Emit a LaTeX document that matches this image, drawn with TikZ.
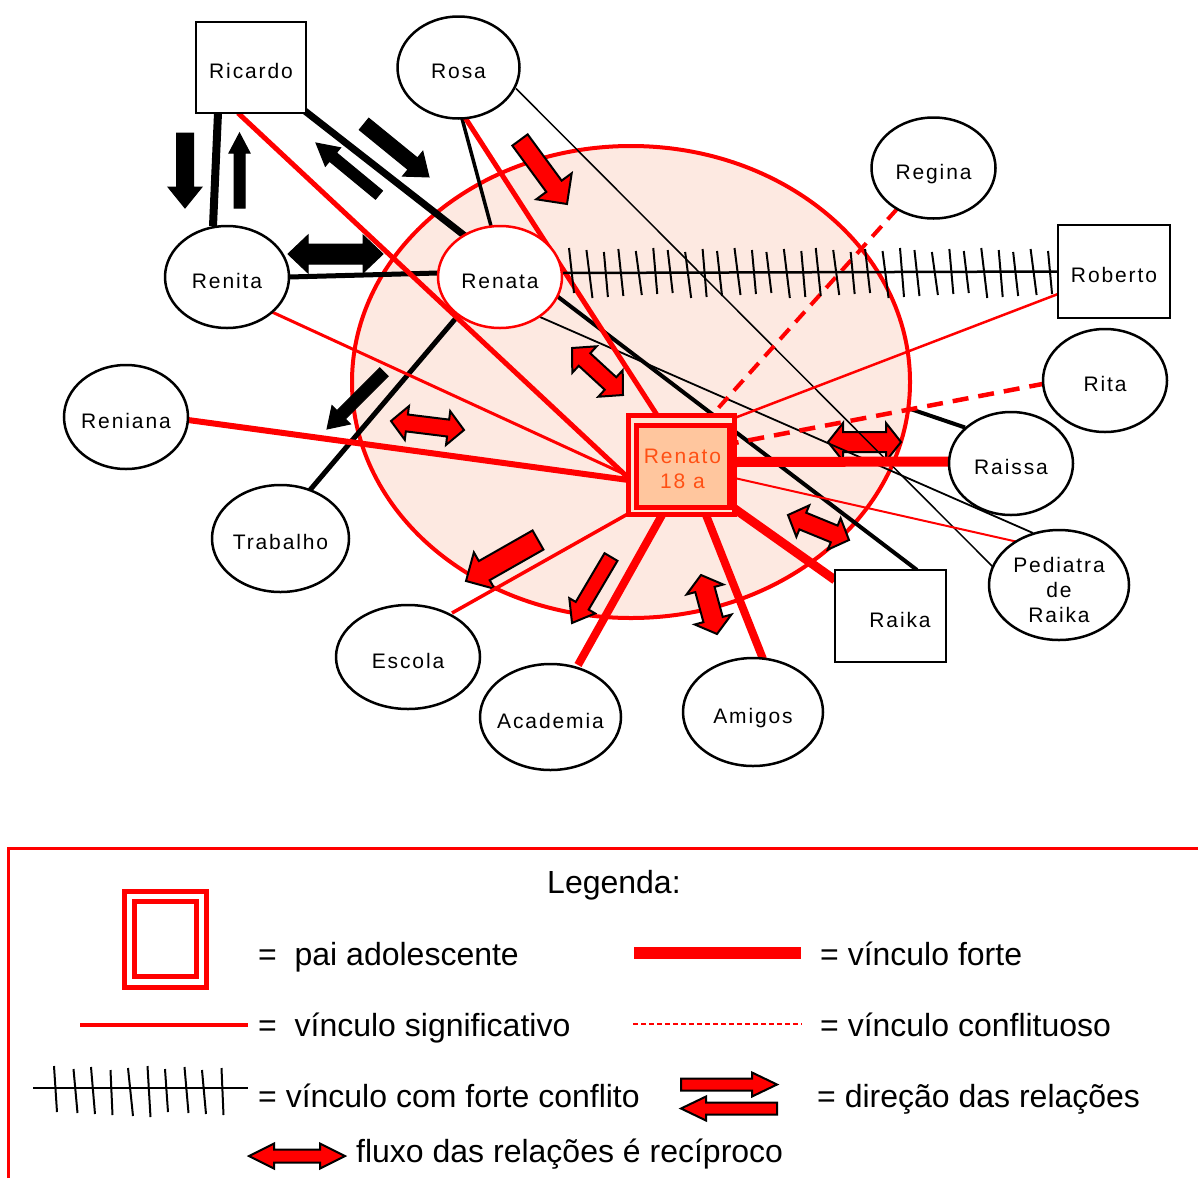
\documentclass[tikz,border=0pt]{standalone}
\usepackage{fontspec}
\setmainfont{Liberation Sans}
\newfontfamily\nodefam[LetterSpace=9]{Liberation Sans}
\usetikzlibrary{shapes.geometric,calc}
\pgfdeclarelayer{hidden}
\pgfdeclarelayer{circ}
\pgfdeclarelayer{arrowlayer}
\pgfdeclarelayer{edges}
\pgfsetlayers{hidden,circ,arrowlayer,edges,main}
\definecolor{circfill}{RGB}{253,233,225}
\definecolor{peach}{RGB}{255,198,158}
\definecolor{palepeach}{RGB}{255,230,212}
\definecolor{rtext}{RGB}{255,80,20}
\newcommand{\nodetxt}{\nodefam\fontsize{21}{25}\selectfont}
\newcommand{\legtxt}{\fontsize{32}{37}\selectfont}
% single block arrow: style, x1, y1, x2 (tip), y2, shaft half, head half, head length
\newcommand{\blkarrow}[8]{%
  \pgfmathsetmacro\bax{#4-(#2)}%
  \pgfmathsetmacro\bay{#5-(#3)}%
  \pgfmathsetmacro\baang{atan2(-(\bay),\bax)}%
  \pgfmathsetmacro\balen{veclen(\bax,\bay)}%
  \pgfmathsetmacro\babase{\balen-#8}%
  \begin{scope}[shift={(#2,#3)},rotate=\baang]
    \path[#1] (0,-#6) -- (\babase,-#6) -- (\babase,-#7) -- (\balen,0) -- (\babase,#7) -- (\babase,#6) -- (0,#6) -- cycle;
  \end{scope}}
% double block arrow
\newcommand{\dblarrow}[8]{%
  \pgfmathsetmacro\bax{#4-(#2)}%
  \pgfmathsetmacro\bay{#5-(#3)}%
  \pgfmathsetmacro\baang{atan2(-(\bay),\bax)}%
  \pgfmathsetmacro\balen{veclen(\bax,\bay)}%
  \pgfmathsetmacro\babase{\balen-#8}%
  \begin{scope}[shift={(#2,#3)},rotate=\baang]
    \path[#1] (0,0) -- (#8,-#7) -- (#8,-#6) -- (\babase,-#6) -- (\babase,-#7) -- (\balen,0) -- (\babase,#7) -- (\babase,#6) -- (#8,#6) -- (#8,#7) -- cycle;
  \end{scope}}
\tikzset{
  nd/.style={ellipse, draw=black, line width=2.5pt, fill=white, inner sep=-12pt, outer sep=0pt, font=\nodetxt, text height=22pt, text depth=0pt},
  bx/.style={rectangle, draw=black, line width=2.5pt, fill=white, inner sep=0pt, outer sep=0pt, font=\nodetxt, text height=22pt, text depth=0pt},
  blackarrow/.style={fill=black, draw=black, line width=1pt, line join=miter},
  redarrow/.style={fill=red, draw=black, line width=2pt, line join=miter},
  blk/.style={draw=black, line cap=butt},
  rd/.style={draw=red, line cap=butt},
  legtext/.style={anchor=base west, font=\legtxt, inner sep=0pt},
}
\begin{document}
\begin{tikzpicture}[x=1pt, y=-1pt]
\useasboundingbox (0,0) rectangle (1198,1178);

% ---------- nodes ----------
\node[bx, minimum width=110pt, minimum height=91pt] (ricardo) at (251,67.5) {Ricardo};
\node[nd, minimum width=122pt, minimum height=102pt] (rosa) at (458.5,67.5) {Rosa};
\node[nd, minimum width=124pt, minimum height=102pt] (renita) at (227,277) {Renita};
\node[nd, draw=red, minimum width=124pt, minimum height=102pt] (renata) at (500,277) {Renata};
\node[nd, minimum width=124pt, minimum height=101pt] (regina) at (933.5,168) {Regina};
\node[bx, minimum width=112pt, minimum height=93pt] (roberto) at (1114,271.5) {Roberto};
\node[nd, minimum width=124pt, minimum height=103pt] (rita) at (1105,380.5) {Rita};
\node[nd, minimum width=124pt, minimum height=103pt] (raissa) at (1011,463.5) {Raissa};
\node[nd, minimum width=140pt, minimum height=110pt, align=center, text height=75pt, text depth=0pt] (pediatra) at (1059,585) {Pediatra\\de\\Raika};
\node[bx, minimum width=111pt, minimum height=92pt] (raika) at (890.5,616) {\hspace*{19pt}Raika};
\node[nd, minimum width=140pt, minimum height=108pt] (amigos) at (753,712) {Amigos};
\node[nd, minimum width=141pt, minimum height=106pt] (academia) at (550.5,717) {Academia};
\node[nd, minimum width=144pt, minimum height=104pt] (escola) at (408,657) {Escola};
\node[nd, minimum width=137pt, minimum height=107pt] (trabalho) at (280.5,538.5) {Trabalho};
\node[nd, minimum width=124pt, minimum height=104pt] (reniana) at (126,417) {Reniana};
\node[rectangle, draw=red, line width=5pt, fill=palepeach, minimum width=106pt, minimum height=99pt, inner sep=0pt, outer sep=0pt] (renato) at (681.5,465) {};
\node[rectangle, draw=red, line width=5pt, fill=peach, minimum width=93pt, minimum height=82pt, inner sep=0pt, outer sep=0pt, text=rtext, font=\nodetxt, align=center, text height=44pt, text depth=0pt] (renatoin) at (682.5,466.5) {Renato\\18 a};

% ---------- hidden line (under the circle) ----------
\begin{pgfonlayer}{hidden}
\draw[blk, line width=4pt] ($(renata)+(60,13)$) -- ($(raissa)+(-46,-36)$);
\end{pgfonlayer}

% ---------- circle ----------
\begin{pgfonlayer}{circ}
\draw[red, line width=4pt, fill=circfill] (631,382) ellipse [x radius=279, y radius=236];
\end{pgfonlayer}

% ---------- block arrows ----------
\begin{pgfonlayer}{arrowlayer}
\blkarrow{blackarrow}{185}{133}{185}{208}{8.5}{17}{21}
\blkarrow{blackarrow}{239.5}{208}{239.5}{133}{5.5}{10.5}{20}
\blkarrow{blackarrow}{364}{124}{429}{177}{7.5}{16}{21}
\blkarrow{blackarrow}{379}{195}{316}{143}{5.5}{12}{22}
\dblarrow{blackarrow}{288}{254}{383}{254}{10}{19}{20}
\blkarrow{blackarrow}{384}{372}{327}{429}{6}{13}{20}
\blkarrow{redarrow}{520}{140}{567}{204}{9.5}{22}{22}
\dblarrow{redarrow}{572}{348}{623}{395}{8.5}{18}{17}
\dblarrow{redarrow}{391}{421}{464}{430}{8.5}{17}{16}
\dblarrow{redarrow}{828}{442}{901}{442}{10}{19}{15}
\dblarrow{redarrow}{788}{515}{849}{540}{9}{17}{16}
\blkarrow{redarrow}{538}{540}{466}{581}{11}{21}{21}
\blkarrow{redarrow}{611}{557}{572}{623}{7.5}{15}{20}
\dblarrow{redarrow}{701}{575}{717}{634}{10}{19}{15}
\end{pgfonlayer}

% ---------- connectors ----------
\begin{pgfonlayer}{edges}
% black
\draw[blk, line width=8pt] ($(ricardo)+(-33,45.5)$) -- ($(renita)+(-14,-51)$);
\draw[blk, line width=7pt] ($(ricardo)+(52,42)$) -- ($(renata)+(-35,-41)$);
\draw[blk, line width=5pt] ($(renita)+(62,0)$) -- ($(renata)+(-62,-4)$);
\draw[blk, line width=3.5pt] ($(rosa)+(3.5,51)$) -- ($(renata)+(-9,-51)$);
\draw[blk, line width=1.5pt] ($(rosa)+(57.5,21)$) -- ($(pediatra)+(-65,-17)$);
\draw[blk, line width=4pt] ($(renata)+(53,16)$) -- ($(raika)+(26.5,-46)$);
\draw[blk, line width=1.8pt] ($(renata)+(40,40)$) -- ($(pediatra)+(-26,-52)$);
\draw[blk, line width=5pt] ($(renata)+(-44,41)$) -- ($(trabalho)+(29.5,-48.5)$);
% red
\draw[rd, line width=5pt] ($(ricardo)+(-13,45.5)$) -- ($(renato)+(-53,13)$);
\draw[rd, line width=3pt] ($(renita)+(45,35)$) -- ($(renato)+(-53,11)$);
\draw[rd, line width=6pt] ($(reniana)+(62,3)$) -- ($(renato)+(-53,15)$);
\draw[rd, line width=5pt] ($(rosa)+(6.5,50)$) -- ($(renato)+(-24.5,-50)$);
\draw[rd, line width=4pt, dash pattern=on 14pt off 9pt] ($(regina)+(-36.5,41)$) -- ($(renato)+(30.5,-50)$);
\draw[rd, line width=2.5pt] ($(roberto)+(-56,22.5)$) -- ($(renato)+(53,-47)$);
\draw[rd, line width=4.5pt, dash pattern=on 16pt off 10pt] ($(rita)+(-60,3)$) -- ($(renato)+(53,-22)$);
\draw[rd, line width=10pt] ($(renato)+(53,-3)$) -- ($(raissa)+(-62,-2)$);
\draw[rd, line width=2pt] ($(pediatra)+(-41,-43)$) -- ($(renato)+(53,13)$);
\draw[rd, line width=9pt] ($(renato)+(52,43)$) -- ($(raika)+(-55.5,-36)$);
\draw[rd, line width=8pt] ($(renato)+(24.5,50)$) -- ($(amigos)+(10,-53)$);
\draw[rd, line width=8pt] ($(renato)+(-19.5,50)$) -- ($(academia)+(27.5,-52)$);
\draw[rd, line width=3.5pt] ($(renato)+(-52,48)$) -- ($(escola)+(44,-44)$);
% strongly conflicting link Renata - Roberto
\draw[blk, line width=2.5pt] ($(renata)+(62,-4)$) -- (roberto.west);
\foreach \i in {0,...,29} {
  \draw[line width=2pt] ({569+16.45*\i+mod(\i,3)}, {248+mod(\i*7,5)}) -- ({574+16.45*\i+mod(\i*2,3)}, {293+mod(\i*5,6)});
}
\end{pgfonlayer}

% ---------- legend ----------
\draw[red, line width=3pt] (8.5,1178) -- (8.5,848) -- (1198,848);
\node[legtext] (legtitle) at (547,893) {Legenda:};
\draw[red, line width=5pt] (124,891) rectangle (206,987);
\draw[red, line width=5pt] (134,901.5) rectangle (196,976.5);
\node[legtext] (lg1) at (258,965) {= \ pai adolescente};
\draw[red, line width=12pt] (634,953) -- (801,953);
\node[legtext] (lg2) at (820,965) {= vínculo forte};
\draw[red, line width=4pt] (80,1025) -- (248,1025);
\node[legtext] (lg3) at (258,1036) {= \ vínculo significativo};
\draw[red, line width=1.5pt, dash pattern=on 5pt off 3pt] (633,1024) -- (802,1024);
\node[legtext] (lg4) at (820,1036) {= vínculo conflituoso};
\draw[line width=2pt] (33,1088) -- (248,1088);
\foreach \i in {0,...,9} {
  \draw[line width=2pt] ({54+18.5*\i+mod(\i,2)}, {1066+mod(\i*3,5)}) -- ({57+18.5*\i+mod(\i*2,3)}, {1112+mod(\i*7,6)});
}
\node[legtext] (lg5) at (258,1107) {= vínculo com forte conflito};
\blkarrow{redarrow}{681}{1084.5}{777}{1084.5}{6}{12}{25}
\blkarrow{redarrow}{777}{1108.5}{681}{1108.5}{6}{12}{25}
\node[legtext] (lg6) at (817,1107) {= direção das relações};
\dblarrow{redarrow}{249}{1156}{345}{1156}{6.5}{12.5}{25}
\node[legtext] (lg7) at (356,1162) {fluxo das relações é recíproco};
\end{tikzpicture}
\end{document}
